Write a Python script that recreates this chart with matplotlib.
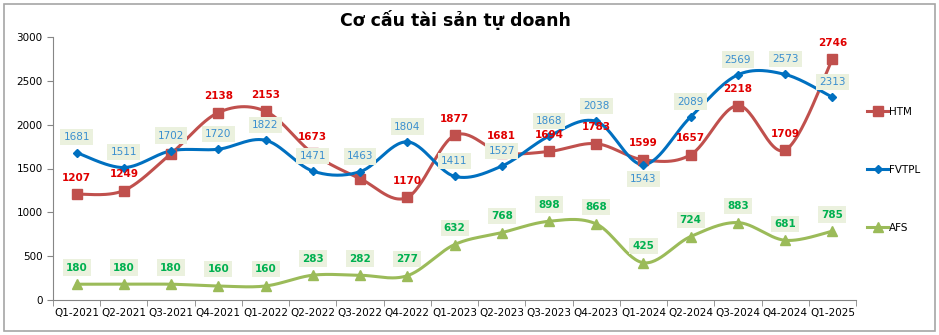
import numpy as np
import matplotlib.pyplot as plt
from matplotlib.patches import Rectangle

# data
quarters = ['Q1-2021', 'Q2-2021', 'Q3-2021', 'Q4-2021', 'Q1-2022', 'Q2-2022', 'Q3-2022', 'Q4-2022',
            'Q1-2023', 'Q2-2023', 'Q3-2023', 'Q4-2023', 'Q1-2024', 'Q2-2024', 'Q3-2024', 'Q4-2024', 'Q1-2025']
htm = [1207, 1249, 1670, 2138, 2153, 1673, 1385, 1170, 1877, 1681, 1694, 1783, 1599, 1657, 2218, 1709, 2746]
fvtpl = [1681, 1511, 1702, 1720, 1822, 1471, 1463, 1804, 1411, 1527, 1868, 2038, 1543, 2089, 2569, 2573, 2313]
afs = [180, 180, 180, 160, 160, 283, 282, 277, 632, 768, 898, 868, 425, 724, 883, 681, 785]


# Excel-like smoothed line (Catmull-Rom through the points)
def smooth(x, y, n=30):
    x = np.asarray(x, float)
    y = np.asarray(y, float)
    px = np.concatenate([[x[0]], x, [x[-1]]])
    py = np.concatenate([[y[0]], y, [y[-1]]])
    xs, ys = [], []
    t = np.linspace(0, 1, n)
    for i in range(1, len(px) - 2):
        p0, p1, p2, p3 = (np.array([px[j], py[j]]) for j in range(i - 1, i + 3))
        c1 = p1 + (p2 - p0) / 6
        c2 = p2 - (p3 - p1) / 6
        b = ((1 - t) ** 3)[:, None] * p1 + (3 * (1 - t) ** 2 * t)[:, None] * c1 \
            + (3 * (1 - t) * t ** 2)[:, None] * c2 + (t ** 3)[:, None] * p2
        xs.extend(b[:, 0])
        ys.extend(b[:, 1])
    return np.array(xs), np.array(ys)


fig = plt.figure(figsize=(9.39, 3.35), dpi=100)
fig.patches.append(Rectangle((4 / 939, 4 / 335), 931 / 939, 327 / 335, transform=fig.transFigure,
                             fill=False, edgecolor='#a6a6a6', linewidth=1.2))
ax = fig.add_axes([53 / 939, 35 / 335, 803 / 939, 263 / 335])

x = np.arange(len(quarters))
series = [
    ('HTM', htm, '#c0504d', 's', 7, '#e00000', 'bold'),
    ('FVTPL', fvtpl, '#0070c0', 'D', 4.5, '#3a8fcf', 'normal'),
    ('AFS', afs, '#9bbb59', '^', 7.5, '#00b050', 'bold'),
]
for name, vals, col, mk, ms, lcol, lw in series:
    sx, sy = smooth(x, vals)
    ax.plot(sx, sy, color=col, linewidth=2.2, zorder=2)
    ax.plot(x, vals, linestyle='none', marker=mk, markersize=ms, color=col, zorder=3)
    ax.plot([], [], color=col, linewidth=2.2, marker=mk, markersize=ms, label=name)

box = dict(boxstyle='square,pad=0.3', facecolor='#ebf1de', edgecolor='none')
for i, v in enumerate(htm):
    ax.annotate(str(v), (i, v), xytext=(0, 12), textcoords='offset points', ha='center', va='center',
                fontsize=7.5, color='#e00000', fontweight='bold', zorder=4)
for i, v in enumerate(fvtpl):
    dy = -10.5 if quarters[i] == 'Q1-2024' else 11
    ax.annotate(str(v), (i, v), xytext=(0, dy), textcoords='offset points', ha='center', va='center',
                fontsize=7.5, color='#3a8fcf', bbox=box, zorder=5)
for i, v in enumerate(afs):
    ax.annotate(str(v), (i, v), xytext=(0, 12), textcoords='offset points', ha='center', va='center',
                fontsize=7.5, color='#00b050', fontweight='bold', bbox=box, zorder=5)

ax.set_xlim(-0.5, len(quarters) - 0.5)
ax.set_ylim(0, 3000)
ax.set_yticks(range(0, 3001, 500))
ax.set_xticks(x)
ax.set_xticklabels(quarters, fontsize=7.5)
ax.set_xticks(np.arange(-0.5, len(quarters), 1), minor=True)
ax.tick_params(axis='x', which='major', length=0, pad=6)
ax.tick_params(axis='x', which='minor', length=4, color='#868686')
ax.tick_params(axis='y', length=4, color='#868686', labelsize=7.5)
for s in ['top', 'right']:
    ax.spines[s].set_visible(False)
for s in ['left', 'bottom']:
    ax.spines[s].set_color('#868686')

fig.text(455 / 939, 1 - 20 / 335, 'Cơ cấu tài sản tự doanh', ha='center', va='center',
         fontsize=12.5, fontweight='bold')

fig.legend(loc='center left', bbox_to_anchor=(858 / 939, 1 - 170 / 335), frameon=False,
           fontsize=7.5, labelspacing=4.6, handlelength=2.0, handletextpad=0.1)

fig.savefig('out.png', dpi=100)
